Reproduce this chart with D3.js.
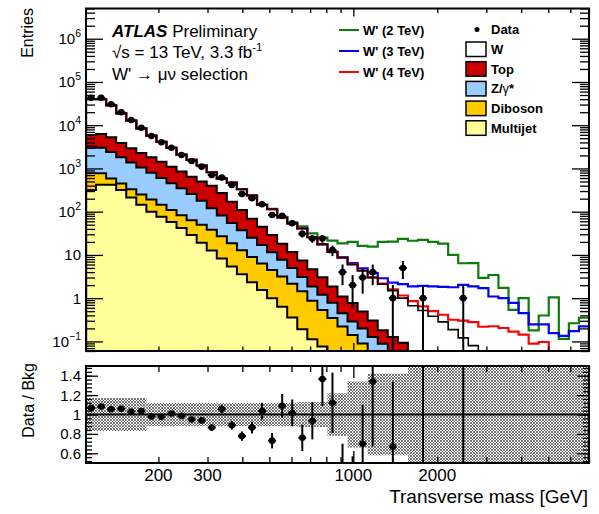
<!DOCTYPE html>
<html><head><meta charset="utf-8">
<script src="https://d3js.org/d3.v7.min.js"></script>
<style>
body { margin: 0; background: #fff; }
text { font-family: "Liberation Sans", Arial, Helvetica, sans-serif; }
</style></head>
<body>
<svg id="chart" width="599" height="514"></svg>
<script>
// 50 log bins, 110 - 7000 GeV
var nBins = 50, mLow = 110, mHigh = 7000;
var edges = d3.range(nBins + 1).map(function(i) { return mLow * Math.pow(mHigh / mLow, i / nBins); });

// background yields per bin
var multijet = [316, 417, 417, 316, 214, 145, 100, 75.9, 57.5, 41.7, 28.8, 19.1, 12.6, 8.32, 5.37, 3.55, 2.34, 1.55, 1.0, 0.63,
  0.355, 0.19, 0.112, 0.076, 0.04, 0.02, 0.01, 0.005, 0, 0, 0, 0, 0, 0, 0, 0, 0, 0, 0, 0,
  0, 0, 0, 0, 0, 0, 0, 0, 0, 0];
var diboson = [460, 359, 172, 131, 117, 106, 91, 69, 52.5, 41.5, 34.3, 31.0, 25.4, 18.6, 13.2, 9.35, 6.57, 4.76, 3.47, 2.53,
  1.79, 1.26, 0.76, 0.46, 0.31, 0.20, 0.13, 0.085, 0.05, 0.03, 0.02, 0.015, 0.01, 0.007, 0.005, 0.003, 0.002, 0.001, 0, 0,
  0, 0, 0, 0, 0, 0, 0, 0, 0, 0];
var zgamma = [2386, 2244, 1810, 1373, 1049, 796, 603, 458, 347, 264, 194, 128, 82, 54.4, 36.4, 24.3, 16.2, 10.7, 7.03, 4.6,
  2.87, 1.64, 0.99, 0.66, 0.43, 0.23, 0.147, 0.11, 0.076, 0.058, 0.03, 0.02, 0.01, 0.006, 0.004, 0.002, 0, 0, 0, 0,
  0, 0, 0, 0, 0, 0, 0, 0, 0, 0];
var ttbar = [2778, 3280, 2851, 2080, 1570, 1233, 1026, 817, 643, 503, 383, 322, 280, 188, 115, 72.8, 43.9, 27.7, 17.3, 10.4,
  6.69, 4.31, 2.82, 1.87, 1.08, 0.64, 0.49, 0.29, 0.18, 0.093, 0.076, 0.058, 0.03, 0.02, 0.012, 0.008, 0.005, 0, 0, 0,
  0, 0, 0, 0, 0, 0, 0, 0, 0, 0];
var wjets = [34460, 33580, 23600, 14870, 9830, 6160, 3935, 2710, 1890, 1230, 930, 671, 417, 311, 298, 222, 168, 99.3, 86.2, 55.3,
  41.4, 33.4, 21.0, 14.5, 9.74, 7.5, 5.22, 3.81, 2.68, 1.91, 1.37, 0.91, 0.62, 0.485, 0.36, 0.27, 0.18, 0.12, 0.08, 0.048,
  0.034, 0.024, 0.018, 0.013, 0.009, 0.007, 0.005, 0.004, 0.003, 0.002];

// observed events
var observed = [43150, 43120, 30410, 19860, 13180, 8750, 5640, 4030, 3020, 2050, 1490, 1100, 708, 614, 416, 258, 205, 149, 84, 80,
  54, 31, 24, 24, 13, 4, 2, 3, 4, 0, 1, 5, 0, 1, 0, 0, 0, 1, 0, 0,
  0, 0, 0, 0, 0, 0, 0, 0, 0, 0];

// W' signal yields (drawn on top of the background total)
var sig2 = [0.3, 0.3, 0.3, 0.3, 0.3, 0.3, 0.3, 0.3, 0.3, 0.3, 0.4, 0.4, 0.5, 0.5, 0.6, 0.8, 1.0, 1.3, 1.8, 2.5,
  3.5, 4.9, 5.9, 7.5, 9.8, 10.0, 14.0, 11.9, 12.5, 17.9, 18.9, 22.4, 20.6, 21.8, 19.6, 17.9, 9.8, 6.3, 6.4, 2.9,
  3.4, 1.7, 0.52, 0.99, 0.17, 0.39, 1.04, 0.11, 0.26, 0.35];
var sig3 = [0.1, 0.1, 0.1, 0.1, 0.1, 0.1, 0.1, 0.1, 0.1, 0.1, 0.1, 0.1, 0.1, 0.1, 0.1, 0.1, 0.1, 0.1, 0.1, 0.1,
  0.15, 0.2, 0.2, 0.25, 0.3, 0.3, 0.5, 0.6, 0.8, 0.8, 0.8, 1.1, 1.2, 1.4, 1.5, 1.55, 1.6, 1.9, 1.8, 1.65,
  1.06, 0.98, 0.76, 0.44, 0.24, 0.24, 0.15, 0.13, 0.17, 0.22];
var sig4 = [0.05, 0.05, 0.05, 0.05, 0.05, 0.05, 0.05, 0.05, 0.05, 0.05, 0.05, 0.05, 0.05, 0.05, 0.05, 0.05, 0.05, 0.05, 0.05, 0.05,
  0.05, 0.05, 0.05, 0.05, 0.05, 0.05, 0.05, 0.05, 0.05, 0.08, 0.1, 0.15, 0.18, 0.13, 0.12, 0.13, 0.13, 0.18, 0.2, 0.17,
  0.19, 0.18, 0.15, 0.13, 0.08, 0.09, 0.02, 0.02, 0.01, 0.01];

// relative background uncertainty (ratio band)
var bkgErr = [0.17, 0.17, 0.17, 0.17, 0.17, 0.17, 0.12, 0.12, 0.12, 0.12, 0.12, 0.12, 0.12, 0.12, 0.12, 0.12, 0.12, 0.12, 0.12, 0.12,
  0.12, 0.13, 0.13, 0.13, 0.22, 0.22, 0.34, 0.34, 0.42, 0.42, 0.42, 0.42, 0.8, 0.8, 0.8, 0.8, 0.8, 0.8, 0.8, 0.8,
  0.8, 0.8, 0.8, 0.8, 0.8, 0.8, 0.8, 0.8, 0.8, 0.8];

var xLabels = [200, 300, 1000, 2000];
var yMajor = [0.1, 1, 10, 100, 1e3, 1e4, 1e5, 1e6];
var rMajor = [0.6, 0.8, 1, 1.2, 1.4];

var L = 86, R = 589, T1 = 8.5, B1 = 351, T2 = 366, B2 = 463;

var svg = d3.select("#chart");
svg.append("rect").attr("width", 599).attr("height", 514).attr("fill", "#fff");

var x = d3.scaleLog().domain([mLow, mHigh]).range([L, R]);
var y = d3.scaleLog().domain([0.06, 5e6]).range([B1, T1]);
var yr = d3.scaleLinear().domain([0.5, 1.5]).range([B2, T2]);

var defs = svg.append("defs");
defs.append("clipPath").attr("id", "clipMain").append("rect")
  .attr("x", L).attr("y", T1).attr("width", R - L).attr("height", B1 - T1);
defs.append("clipPath").attr("id", "clipRatio").append("rect")
  .attr("x", L).attr("y", T2).attr("width", R - L).attr("height", B2 - T2);
var pat = defs.append("pattern").attr("id", "hatch").attr("patternUnits", "userSpaceOnUse")
  .attr("width", 3).attr("height", 3);
pat.append("path").attr("d", "M0,0L3,3M3,0L0,3").attr("stroke", "#3a3a3a").attr("stroke-width", 0.7);

// stack
var keys = ["multijet", "diboson", "zgamma", "ttbar", "wjets"];
var colors = { wjets: "#ffffff", ttbar: "#cc0000", zgamma: "#99ccff", diboson: "#ffcc00", multijet: "#ffff99" };
var rows = observed.map(function(d, i) {
  return { multijet: multijet[i], diboson: diboson[i], zgamma: zgamma[i], ttbar: ttbar[i], wjets: wjets[i] };
});
var series = d3.stack().keys(keys)(rows);
var total = series[series.length - 1].map(function(d) { return d[1]; });

function yc(v) { return y(Math.max(v, 1e-4)); }
function stepPath(vals) {
  var p = "M" + x(edges[0]) + "," + (B1 + 5);
  vals.forEach(function(v, i) { p += "V" + yc(v) + "H" + x(edges[i + 1]); });
  return p + "V" + (B1 + 5);
}

var gMain = svg.append("g").attr("clip-path", "url(#clipMain)");
var tops = series.slice().reverse();
tops.forEach(function(s) {
  gMain.append("path").attr("d", stepPath(s.map(function(d) { return d[1]; })) + "Z")
    .attr("fill", colors[s.key]).attr("stroke", "none");
});

// signals
var signals = [
  { vals: sig2, color: "#0b7d0b", label: "W' (2 TeV)" },
  { vals: sig3, color: "#0000ff", label: "W' (3 TeV)" },
  { vals: sig4, color: "#ff0000", label: "W' (4 TeV)" }
];
signals.forEach(function(s) {
  gMain.append("path").attr("d", stepPath(total.map(function(t, i) { return t + s.vals[i]; })))
    .attr("fill", "none").attr("stroke", s.color).attr("stroke-width", 2.2);
});

tops.forEach(function(s) {
  gMain.append("path").attr("d", stepPath(s.map(function(d) { return d[1]; })))
    .attr("fill", "none").attr("stroke", "#000").attr("stroke-width", s.key === "wjets" ? 1.6 : 2);
});

// data points
function centre(i) { return Math.sqrt(edges[i] * edges[i + 1]); }
var pts = observed.map(function(n, i) { return { i: i, n: n }; }).filter(function(d) { return d.n > 0; });
var gData = gMain.append("g");
pts.forEach(function(d) {
  var cx = x(centre(d.i)), e = Math.sqrt(d.n);
  gData.append("line").attr("x1", cx).attr("x2", cx).attr("y1", y(d.n + e)).attr("y2", yc(d.n - e))
    .attr("stroke", "#000").attr("stroke-width", 2);
  gData.append("line").attr("x1", cx - 4).attr("x2", cx + 4).attr("y1", y(d.n)).attr("y2", y(d.n))
    .attr("stroke", "#000").attr("stroke-width", 2);
  gData.append("circle").attr("cx", cx).attr("cy", y(d.n)).attr("r", 3.3).attr("fill", "#000");
});

// ratio panel
var gRatio = svg.append("g").attr("clip-path", "url(#clipRatio)");
bkgErr.forEach(function(e, i) {
  gRatio.append("rect").attr("x", x(edges[i])).attr("width", x(edges[i + 1]) - x(edges[i]))
    .attr("y", yr(1 + e)).attr("height", yr(1 - e) - yr(1 + e)).attr("fill", "url(#hatch)");
});
gRatio.append("line").attr("x1", L).attr("x2", R).attr("y1", yr(1)).attr("y2", yr(1))
  .attr("stroke", "#000").attr("stroke-width", 2);
pts.forEach(function(d) {
  var mc = total[d.i], r = d.n / mc, e = Math.sqrt(d.n) / mc, cx = x(centre(d.i));
  gRatio.append("line").attr("x1", cx).attr("x2", cx).attr("y1", yr(r + e)).attr("y2", yr(r - e))
    .attr("stroke", "#000").attr("stroke-width", 2);
  if (r >= 0.5 && r <= 1.5) {
    gRatio.append("line").attr("x1", cx - 4).attr("x2", cx + 4).attr("y1", yr(r)).attr("y2", yr(r))
      .attr("stroke", "#000").attr("stroke-width", 2);
    gRatio.append("circle").attr("cx", cx).attr("cy", yr(r)).attr("r", 3.3).attr("fill", "#000");
  }
});

// axes
function minorLog(lo, hi) {
  var t = [];
  for (var p = Math.floor(Math.log10(lo)); p <= Math.ceil(Math.log10(hi)); p++)
    for (var k = 2; k <= 9; k++) { var v = k * Math.pow(10, p); if (v >= lo && v <= hi) t.push(v); }
  return t;
}
function ticks(g, axis, vals, size) {
  g.call(axis.tickValues(vals).tickSize(size).tickSizeOuter(0).tickFormat(""));
  g.select(".domain").remove();
  g.selectAll(".tick line").attr("stroke", "#000").attr("stroke-width", 1.3);
}
var xMinor = minorLog(mLow, mHigh), xMaj = [1000];
var yMinor = minorLog(0.06, 5e6);
var rMinor = d3.range(13, 38).map(function(k) { return k * 0.04; });

ticks(svg.append("g").attr("transform", "translate(" + L + ",0)"), d3.axisLeft(y), yMajor, -17);
ticks(svg.append("g").attr("transform", "translate(" + L + ",0)"), d3.axisLeft(y), yMinor, -9);
ticks(svg.append("g").attr("transform", "translate(" + R + ",0)"), d3.axisRight(y), yMajor, -17);
ticks(svg.append("g").attr("transform", "translate(" + R + ",0)"), d3.axisRight(y), yMinor, -9);
ticks(svg.append("g").attr("transform", "translate(0," + T1 + ")"), d3.axisTop(x), xMaj, -8);
ticks(svg.append("g").attr("transform", "translate(0," + T1 + ")"), d3.axisTop(x), xMinor, -4.5);
ticks(svg.append("g").attr("transform", "translate(0," + B1 + ")"), d3.axisBottom(x), xMaj, -8);
ticks(svg.append("g").attr("transform", "translate(0," + B1 + ")"), d3.axisBottom(x), xMinor, -4.5);

ticks(svg.append("g").attr("transform", "translate(" + L + ",0)"), d3.axisLeft(yr), rMajor, -12);
ticks(svg.append("g").attr("transform", "translate(" + L + ",0)"), d3.axisLeft(yr), rMinor, -6);
ticks(svg.append("g").attr("transform", "translate(" + R + ",0)"), d3.axisRight(yr), rMajor, -12);
ticks(svg.append("g").attr("transform", "translate(" + R + ",0)"), d3.axisRight(yr), rMinor, -6);
ticks(svg.append("g").attr("transform", "translate(0," + T2 + ")"), d3.axisTop(x), xMaj, -12);
ticks(svg.append("g").attr("transform", "translate(0," + T2 + ")"), d3.axisTop(x), xMinor, -6);
ticks(svg.append("g").attr("transform", "translate(0," + B2 + ")"), d3.axisBottom(x), xMaj, -12);
ticks(svg.append("g").attr("transform", "translate(0," + B2 + ")"), d3.axisBottom(x), xMinor, -6);

svg.append("rect").attr("x", L).attr("y", T1).attr("width", R - L).attr("height", B1 - T1)
  .attr("fill", "none").attr("stroke", "#000").attr("stroke-width", 2);
svg.append("rect").attr("x", L).attr("y", T2).attr("width", R - L).attr("height", B2 - T2)
  .attr("fill", "none").attr("stroke", "#000").attr("stroke-width", 2);

// tick labels
yMajor.forEach(function(v) {
  var p = Math.round(Math.log10(v));
  var t = svg.append("text").attr("x", 81).attr("y", y(v) + 5.5).attr("text-anchor", "end").attr("font-size", 15);
  if (p === 0) t.text("1");
  else if (p === 1) t.text("10");
  else {
    t.append("tspan").text("10");
    t.append("tspan").attr("dy", -7).attr("font-size", 10.5).text(p < 0 ? "\u22121" : String(p));
  }
});
rMajor.forEach(function(v) {
  svg.append("text").attr("x", 81).attr("y", yr(v) + 5.5).attr("text-anchor", "end").attr("font-size", 15)
    .text(v === 1 ? "1" : d3.format(".1f")(v));
});
xLabels.forEach(function(v) {
  svg.append("text").attr("x", x(v)).attr("y", 481).attr("text-anchor", "middle").attr("font-size", 17).text(v);
});

// axis titles
svg.append("text").attr("transform", "translate(33,8) rotate(-90)").attr("text-anchor", "end")
  .attr("font-size", 16).text("Entries");
svg.append("text").attr("transform", "translate(34,363) rotate(-90)").attr("text-anchor", "end")
  .attr("font-size", 16).text("Data / Bkg");
svg.append("text").attr("x", 588).attr("y", 503).attr("text-anchor", "end")
  .attr("font-size", 19).text("Transverse mass [GeV]");

// ATLAS label
var t1 = svg.append("text").attr("x", 112).attr("y", 37).attr("font-size", 17);
t1.append("tspan").attr("font-weight", "bold").attr("font-style", "italic").text("ATLAS");
t1.append("tspan").text(" Preliminary");
var t2 = svg.append("text").attr("x", 112).attr("y", 58).attr("font-size", 17);
t2.append("tspan").text("\u221As = 13 TeV, 3.3 fb");
t2.append("tspan").attr("dy", -7).attr("font-size", 11.5).text("-1");
svg.append("text").attr("x", 112).attr("y", 80).attr("font-size", 17).text("W' \u2192 \u03BC\u03BD selection");

// legend: signals
signals.forEach(function(s, i) {
  var ly = 30 + i * 21;
  svg.append("line").attr("x1", 339).attr("x2", 359).attr("y1", ly).attr("y2", ly)
    .attr("stroke", s.color).attr("stroke-width", 2);
  svg.append("text").attr("x", 363).attr("y", ly + 4.5).attr("font-size", 13).attr("font-weight", "bold").text(s.label);
});

// legend: data + backgrounds
svg.append("circle").attr("cx", 477).attr("cy", 29.5).attr("r", 2.5).attr("fill", "#000");
svg.append("text").attr("x", 491).attr("y", 34).attr("font-size", 13).attr("font-weight", "bold").text("Data");
var legItems = [
  { key: "wjets", label: "W" }, { key: "ttbar", label: "Top" }, { key: "zgamma", label: "Z/\u03B3*" },
  { key: "diboson", label: "Diboson" }, { key: "multijet", label: "Multijet" }
];
legItems.forEach(function(d, i) {
  var by = 42 + i * 19.7;
  svg.append("rect").attr("x", 466).attr("y", by).attr("width", 20).attr("height", 14.5)
    .attr("fill", colors[d.key]).attr("stroke", "#000").attr("stroke-width", 1.5);
  var t = svg.append("text").attr("x", 491).attr("y", by + 12).attr("font-size", 13).attr("font-weight", "bold");
  if (d.key === "zgamma") {
    t.append("tspan").text("Z/");
    t.append("tspan").attr("font-weight", "normal").text("\u03B3");
    t.append("tspan").text("*");
  } else t.text(d.label);
});
</script>
</body></html>
